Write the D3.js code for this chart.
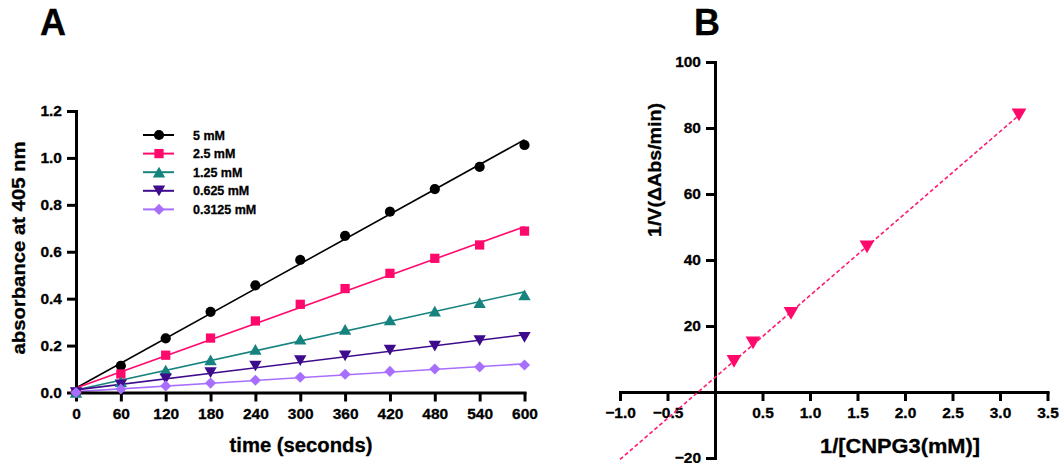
<!DOCTYPE html>
<html>
<head>
<meta charset="utf-8">
<script src="https://cdn.jsdelivr.net/npm/d3@7"></script>
<style>
  html, body { margin: 0; padding: 0; background: #fff; }
  svg { display: block; font-family: "Liberation Sans", Arial, sans-serif; font-weight: bold; }
  text { stroke: #000; stroke-width: 0.3px; }
</style>
</head>
<body>
<svg id="chart" width="1060" height="463"></svg>
<script>
// ---- Panel A: absorbance time course ----
const times = [0, 60, 120, 180, 240, 300, 360, 420, 480, 540, 600];
const concLabels = ["5 mM", "2.5 mM", "1.25 mM", "0.625 mM", "0.3125 mM"];
const abs5 = [0.0, 0.114, 0.231, 0.344, 0.457, 0.565, 0.668, 0.771, 0.867, 0.962, 1.055];
const abs2_5 = [0.0, 0.079, 0.159, 0.232, 0.305, 0.376, 0.443, 0.508, 0.572, 0.629, 0.688];
const abs1_25 = [0.0, 0.046, 0.096, 0.139, 0.184, 0.227, 0.269, 0.309, 0.347, 0.383, 0.416];
const abs0_625 = [0.0, 0.033, 0.058, 0.085, 0.113, 0.136, 0.156, 0.181, 0.198, 0.221, 0.235];
const abs0_3125 = [0.0, 0.015, 0.028, 0.040, 0.052, 0.065, 0.078, 0.090, 0.100, 0.109, 0.117];
const timeTicks = [0, 60, 120, 180, 240, 300, 360, 420, 480, 540, 600];
const absTicks = [0.0, 0.2, 0.4, 0.6, 0.8, 1.0, 1.2];

// ---- Panel B: Lineweaver-Burk ----
const invConc = [0.2, 0.4, 0.8, 1.6, 3.2];
const invRate = [9.3, 14.9, 23.8, 44.0, 84.0];
const invConcTicks = [-1.0, -0.5, 0.5, 1.0, 1.5, 2.0, 2.5, 3.0, 3.5];
const invRateTicks = [-20, 20, 40, 60, 80, 100];
const fitRange = [-1.0, 3.2];

const colors = ["#000000", "#ff0a6c", "#17837f", "#3d0b8c", "#a86fff"];
const shapes = ["circle", "square", "up", "down", "diamond"];
const markerSizes = [82, 86, 66, 66, 62];
const seriesA = [abs5, abs2_5, abs1_25, abs0_625, abs0_3125];

// least-squares straight line through (xs, ys)
function linfit(xs, ys) {
  const mx = d3.mean(xs), my = d3.mean(ys);
  let sxy = 0, sxx = 0;
  for (let i = 0; i < xs.length; i++) { sxy += (xs[i] - mx) * (ys[i] - my); sxx += (xs[i] - mx) ** 2; }
  const slope = sxy / sxx;
  return { slope, intercept: my - slope * mx };
}

const svg = d3.select("#chart");
const AXW = 3;

function drawMarker(g, shape, x, y, size, color) {
  let type = d3.symbolCircle, rot = 0;
  if (shape === "square") type = d3.symbolSquare;
  if (shape === "up") type = d3.symbolTriangle;
  if (shape === "down") { type = d3.symbolTriangle; rot = 180; }
  if (shape === "diamond") { type = d3.symbolSquare; rot = 45; }
  // keep triangle centred on its bounding box rather than its centroid
  const dy = (shape === "up" || shape === "down") ? Math.sqrt(size / (3 * Math.sqrt(3))) * 0.5 : 0;
  return g.append("path")
    .attr("d", d3.symbol(type, size)())
    .attr("fill", color)
    .attr("transform", `translate(${x},${y}) rotate(${rot}) translate(0,${dy})`);
}

function styleAxis(g, fontSize) {
  g.selectAll(".domain").attr("stroke", "#000").attr("stroke-width", AXW).attr("stroke-linecap", "square");
  g.selectAll(".tick line").attr("stroke", "#000").attr("stroke-width", AXW);
  g.selectAll(".tick text").attr("fill", "#000").style("font-size", fontSize + "px").style("font-weight", "bold")
    .style("font-family", '"Liberation Sans", Arial, sans-serif');
}

// ================= Panel A =================
const xA = d3.scaleLinear().domain([0, 600]).range([76, 524.5]);
const yA = d3.scaleLinear().domain([0, 1.2]).range([392.5, 111]);
const gA = svg.append("g");

// fitted lines
seriesA.forEach((vals, i) => {
  const f = linfit(times, vals);
  gA.append("line")
    .attr("x1", xA(0)).attr("y1", yA(f.intercept))
    .attr("x2", xA(600)).attr("y2", yA(f.intercept + f.slope * 600))
    .attr("stroke", colors[i]).attr("stroke-width", 1.6);
});

const axAx = gA.append("g").attr("transform", `translate(0,${yA(0)})`)
  .call(d3.axisBottom(xA).tickValues(timeTicks).tickFormat(d3.format("d")).tickSize(9).tickSizeOuter(0).tickPadding(6));
styleAxis(axAx, 15.5);
const axAy = gA.append("g").attr("transform", `translate(${xA(0)},0)`)
  .call(d3.axisLeft(yA).tickValues(absTicks).tickFormat(d3.format(".1f")).tickSize(9).tickSizeOuter(0).tickPadding(5));
styleAxis(axAy, 15.5);

seriesA.forEach((vals, i) => {
  vals.forEach((v, j) => drawMarker(gA, shapes[i], xA(times[j]), yA(v), markerSizes[i], colors[i]));
});

// legend
const legY0 = 135, legDy = 18.6;
concLabels.forEach((lab, i) => {
  const y = legY0 + i * legDy;
  gA.append("line").attr("x1", 143).attr("x2", 174).attr("y1", y).attr("y2", y)
    .attr("stroke", colors[i]).attr("stroke-width", 2);
  drawMarker(gA, shapes[i], 159, y, markerSizes[i], colors[i]);
  gA.append("text").attr("x", 193).attr("y", y + 4.5).text(lab)
    .style("font-size", "12.5px").attr("fill", "#000");
});

gA.append("text").attr("x", 301).attr("y", 452).attr("text-anchor", "middle")
  .attr("textLength", 143).attr("lengthAdjust", "spacingAndGlyphs")
  .style("font-size", "20px").text("time (seconds)");
gA.append("text").attr("transform", `translate(25,248) rotate(-90)`).attr("text-anchor", "middle")
  .attr("textLength", 213).attr("lengthAdjust", "spacingAndGlyphs")
  .style("font-size", "18px").text("absorbance at 405 nm");
svg.append("text").attr("x", 40).attr("y", 35).style("font-size", "36px").text("A");

// ================= Panel B =================
const xB = d3.scaleLinear().domain([-1.0, 3.5]).range([620, 1047.5]);
const yB = d3.scaleLinear().domain([-20, 100]).range([458, 62]);
const gB = svg.append("g");

const axBx = gB.append("g").attr("transform", `translate(0,${yB(0)})`)
  .call(d3.axisBottom(xB).tickValues(invConcTicks).tickFormat(d3.format(".1f")).tickSize(9).tickSizeOuter(0).tickPadding(6));
styleAxis(axBx, 15.5);
const axBy = gB.append("g").attr("transform", `translate(${xB(0)},0)`)
  .call(d3.axisLeft(yB).tickValues(invRateTicks).tickFormat(d3.format("d")).tickSize(9).tickSizeOuter(0).tickPadding(5));
styleAxis(axBy, 15.5);

const fB = linfit(invConc, invRate);
gB.append("line")
  .attr("x1", xB(fitRange[0])).attr("y1", yB(fB.intercept + fB.slope * fitRange[0]))
  .attr("x2", xB(fitRange[1])).attr("y2", yB(fB.intercept + fB.slope * fitRange[1]))
  .attr("stroke", "#ff1a75").attr("stroke-width", 1.6).attr("stroke-dasharray", "4,2.5");

invConc.forEach((x, i) => drawMarker(gB, "down", xB(x), yB(invRate[i]), 95, "#ff0a6c"));

gB.append("text").attr("x", 900).attr("y", 453).attr("text-anchor", "middle")
  .attr("textLength", 160).attr("lengthAdjust", "spacingAndGlyphs")
  .style("font-size", "20px").text("1/[CNPG3(mM)]");
gB.append("text").attr("transform", `translate(661,170) rotate(-90)`).attr("text-anchor", "middle")
  .attr("textLength", 134).attr("lengthAdjust", "spacingAndGlyphs")
  .style("font-size", "18.5px").text("1/V(ΔAbs/min)");
svg.append("text").attr("x", 694).attr("y", 35).style("font-size", "36px").text("B");
</script>
</body>
</html>
